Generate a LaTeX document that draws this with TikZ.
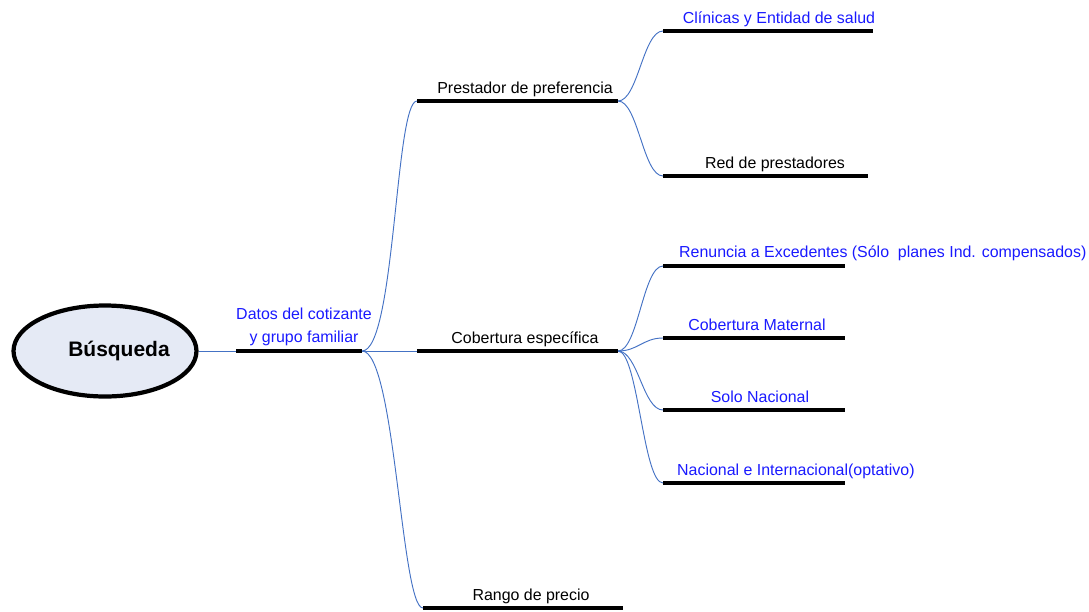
\documentclass[tikz,border=0pt]{standalone}
\usepackage{fontspec}
\setmainfont{Liberation Sans}
\usetikzlibrary{shapes.geometric}
\definecolor{linkblue}{RGB}{68,114,196}
\definecolor{lblblue}{RGB}{25,25,255}
\definecolor{rootfill}{RGB}{229,234,245}

\begin{document}
\begin{tikzpicture}[x=0.03cm,y=-0.03cm,
    bar/.style={line width=3.4pt},
    link/.style={draw=linkblue,line width=0.8pt},
    up/.style={out=0,in=180,out distance=1cm,in distance=0.66cm},
    sub/.style={out=0,in=180,out distance=0.6cm,in distance=0.6cm},
    lbl/.style={anchor=base,inner sep=0pt,font=\fontsize{13.6pt}{19.6pt}\selectfont},
    blu/.style={lbl,text=lblblue}]
\useasboundingbox (0,0) rectangle (1089,611);

% root
\node[ellipse,draw,line width=3.6pt,fill=rootfill,inner sep=0pt,
      minimum width=5.37cm,minimum height=2.73cm,
      font=\fontsize{17.9pt}{20pt}\selectfont\bfseries] (bus) at (105,351) {\hspace*{0.84cm}Búsqueda};

% bar ends
\coordinate (dat-l) at (236,351); \coordinate (dat-r) at (362,351);
\coordinate (pre-l) at (417,101); \coordinate (pre-r) at (618,101);
\coordinate (cob-l) at (417,351); \coordinate (cob-r) at (618,351);
\coordinate (ran-l) at (423,608); \coordinate (ran-r) at (623,608);
\coordinate (cli-l) at (663,31);  \coordinate (cli-r) at (873,31);
\coordinate (red-l) at (663,176); \coordinate (red-r) at (868,176);
\coordinate (ren-l) at (663,266); \coordinate (ren-r) at (845,266);
\coordinate (mat-l) at (663,338); \coordinate (mat-r) at (845,338);
\coordinate (nac-l) at (663,410); \coordinate (nac-r) at (845,410);
\coordinate (int-l) at (663,483); \coordinate (int-r) at (845,483);

% links
\draw[link] (bus.east) -- (dat-l);
\draw[link] (dat-r) to[up] (pre-l);
\draw[link] (dat-r) -- (cob-l);
\draw[link] (dat-r) to[up] (ran-l);
\draw[link] (pre-r) to[sub] (cli-l);
\draw[link] (pre-r) to[sub] (red-l);
\draw[link] (cob-r) to[sub] (ren-l);
\draw[link] (cob-r) to[sub] (mat-l);
\draw[link] (cob-r) to[sub] (nac-l);
\draw[link] (cob-r) to[sub] (int-l);

% bars
\draw[bar] (dat-l) -- (dat-r);
\draw[bar] (pre-l) -- (pre-r);
\draw[bar] (cob-l) -- (cob-r);
\draw[bar] (ran-l) -- (ran-r);
\draw[bar] (cli-l) -- (cli-r);
\draw[bar] (red-l) -- (red-r);
\draw[bar] (ren-l) -- (ren-r);
\draw[bar] (mat-l) -- (mat-r);
\draw[bar] (nac-l) -- (nac-r);
\draw[bar] (int-l) -- (int-r);

% labels
\node[blu,align=center] (dat) at (304,342) {Datos del cotizante\\y grupo familiar};
\node[lbl] (pre) at (525,93) {Prestador de preferencia};
\node[lbl] (cob) at (525,343) {Cobertura específica};
\node[lbl] (ran) at (531,600) {Rango de precio};
\node[blu] (cli) at (779,23) {Clínicas y Entidad de salud};
\node[lbl] (red) at (775,168) {Red de prestadores};
\node[blu,anchor=base west] (ren) at (679,257) {Renuncia a Excedentes (Sólo\ \ planes Ind. compensados)};
\node[blu] (mat) at (757,330) {Cobertura Maternal};
\node[blu] (nac) at (760,402) {Solo Nacional};
\node[blu,anchor=base west] (int) at (677,475) {Nacional e Internacional(optativo)};
\end{tikzpicture}
\end{document}
